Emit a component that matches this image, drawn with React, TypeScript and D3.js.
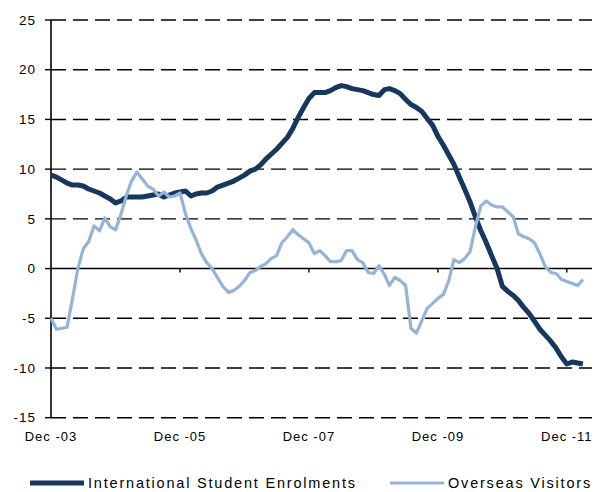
import React, { useEffect, useRef } from "react";
import * as d3 from "d3";

// monthly, Dec-03 .. Mar-12
const studentEnrolments = [
  9.4, 9.2, 8.9, 8.6, 8.4, 8.4, 8.3, 8.0, 7.8, 7.6, 7.3, 7.0, 6.6, 6.8, 7.2, 7.2, 7.2, 7.2, 7.3, 7.4,
  7.5, 7.2, 7.4, 7.6, 7.7, 7.8, 7.3, 7.5, 7.6, 7.6, 7.8, 8.2, 8.4, 8.6, 8.8, 9.1, 9.4, 9.8, 10.0, 10.4,
  11.0, 11.5, 12.0, 12.6, 13.2, 14.1, 15.2, 16.2, 17.1, 17.7, 17.7, 17.7, 17.9, 18.2, 18.4, 18.3, 18.1, 18.0, 17.9, 17.7,
  17.5, 17.4, 18.0, 18.1, 17.9, 17.6, 17.0, 16.5, 16.2, 15.8, 15.1, 14.4, 13.3, 12.4, 11.4, 10.5, 9.2, 8.0, 6.7, 5.2,
  3.8, 2.6, 1.3, 0.0, -1.8, -2.3, -2.7, -3.2, -3.9, -4.5, -5.3, -6.1, -6.7, -7.3, -8.0, -8.9, -9.6, -9.4, -9.5, -9.6,
];

const overseasVisitors = [
  -5.0, -6.1, -6.0, -5.9, -3.0, 0.0, 2.0, 2.7, 4.3, 3.8, 5.1, 4.2, 3.9, 5.5, 7.4, 8.8, 9.7, 9.0, 8.3, 8.0,
  7.3, 7.7, 7.2, 7.3, 7.6, 5.5, 4.0, 2.9, 1.5, 0.6, 0.0, -0.9, -1.8, -2.4, -2.2, -1.8, -1.2, -0.4, -0.2, 0.2,
  0.5, 1.0, 1.3, 2.6, 3.2, 3.9, 3.4, 3.0, 2.6, 1.5, 1.8, 1.3, 0.7, 0.7, 0.8, 1.8, 1.8, 0.9, 0.6, -0.4,
  -0.5, 0.3, -0.6, -1.7, -0.9, -1.2, -1.7, -6.0, -6.5, -5.2, -4.0, -3.5, -3.0, -2.6, -1.2, 0.9, 0.6, 1.0, 1.7, 4.2,
  6.3, 6.8, 6.4, 6.2, 6.2, 5.7, 5.2, 3.5, 3.2, 3.0, 2.6, 1.5, 0.2, -0.4, -0.5, -1.1, -1.3, -1.5, -1.7, -1.1,
];

const seriesNames = ["International Student Enrolments", "Overseas Visitors"];
const seriesColors = ["#17375E", "#95B3D7"];
const yTicks = [-15, -10, -5, 0, 5, 10, 15, 20, 25];
const xTickLabels = ["Dec -03", "Dec -05", "Dec -07", "Dec -09", "Dec -11"];

const months = d3.timeMonth.range(new Date(2003, 11, 1), new Date(2012, 3, 1));
const xTickDates = d3.range(xTickLabels.length).map((i) => new Date(2003 + 2 * i, 11, 1));

const Chart = () => {
  const svgRef = useRef<SVGSVGElement>(null);

  useEffect(() => {
    const width = 597;
    const height = 492;
    const left = 51;
    const right = 591;
    const top = 20;
    const bottom = 417.7;
    const font = "Arial, 'Liberation Sans', sans-serif";

    const svg = d3.select(svgRef.current);
    svg.selectAll("*").remove();
    svg.attr("width", width).attr("height", height);

    const x = d3
      .scaleTime()
      .domain([new Date(2003, 11, 1), new Date(2012, 3, 16)])
      .range([left, right]);
    const y = d3.scaleLinear().domain([-15, 25]).range([bottom, top]);

    // horizontal gridlines (dashed), zero line solid
    const grid = svg.append("g");
    grid
      .selectAll("line.grid")
      .data(yTicks.filter((d) => d !== 0))
      .join("line")
      .attr("x1", left)
      .attr("x2", right + 1)
      .attr("y1", (d) => y(d))
      .attr("y2", (d) => y(d))
      .attr("stroke", "#000")
      .attr("stroke-width", 1.4)
      .attr("stroke-dasharray", "15,7");

    // y ticks
    grid
      .selectAll("line.ytick")
      .data(yTicks)
      .join("line")
      .attr("x1", left - 6)
      .attr("x2", left)
      .attr("y1", (d) => y(d))
      .attr("y2", (d) => y(d))
      .attr("stroke", "#000")
      .attr("stroke-width", 1.4);

    grid
      .selectAll("text.ylab")
      .data(yTicks)
      .join("text")
      .attr("x", 36)
      .attr("y", (d) => y(d))
      .attr("dy", "0.35em")
      .attr("text-anchor", "end")
      .attr("font-family", font)
      .attr("font-size", 13.5)
      .attr("letter-spacing", 1)
      .attr("fill", "#000")
      .text((d) => d);

    // x axis at zero
    const xAxis = svg.append("g");
    xAxis
      .append("line")
      .attr("x1", left)
      .attr("x2", right + 1)
      .attr("y1", y(0))
      .attr("y2", y(0))
      .attr("stroke", "#000")
      .attr("stroke-width", 1.4);
    xAxis
      .selectAll("line.xtick")
      .data(xTickDates.slice(1))
      .join("line")
      .attr("x1", (d) => x(d))
      .attr("x2", (d) => x(d))
      .attr("y1", y(0))
      .attr("y2", y(0) + 4)
      .attr("stroke", "#000")
      .attr("stroke-width", 1.4);
    xAxis
      .selectAll("text")
      .data(xTickDates)
      .join("text")
      .attr("x", (d) => x(d))
      .attr("y", 441)
      .attr("text-anchor", "middle")
      .attr("font-family", font)
      .attr("font-size", 13)
      .attr("letter-spacing", 1)
      .attr("fill", "#000")
      .text((d, i) => xTickLabels[i]);

    // y axis line
    svg
      .append("line")
      .attr("x1", left)
      .attr("x2", left)
      .attr("y1", top)
      .attr("y2", bottom)
      .attr("stroke", "#000")
      .attr("stroke-width", 1.6);

    const line = d3
      .line<number>()
      .x((d, i) => x(months[i]))
      .y((d) => y(d));

    svg
      .append("path")
      .datum(studentEnrolments)
      .attr("fill", "none")
      .attr("stroke", seriesColors[0])
      .attr("stroke-width", 5)
      .attr("stroke-linejoin", "round")
      .attr("d", line);

    svg
      .append("path")
      .datum(overseasVisitors)
      .attr("fill", "none")
      .attr("stroke", seriesColors[1])
      .attr("stroke-width", 3.2)
      .attr("stroke-linejoin", "round")
      .attr("d", line);

    // legend
    const legendX = [30, 390];
    const legend = svg
      .append("g")
      .selectAll("g")
      .data(seriesNames)
      .join("g")
      .attr("transform", (d, i) => `translate(${legendX[i]}, 483)`);
    legend
      .append("line")
      .attr("x1", 0)
      .attr("x2", 54)
      .attr("stroke", (d, i) => seriesColors[i])
      .attr("stroke-width", (d, i) => (i === 0 ? 5 : 3.2));
    legend
      .append("text")
      .attr("x", 58)
      .attr("y", 5)
      .attr("font-family", font)
      .attr("font-size", 14.5)
      .attr("letter-spacing", 1.8)
      .attr("fill", "#000")
      .text((d) => d);
  }, []);

  return <svg ref={svgRef} style={{ display: "block" }} />;
};

export default function App() {
  return (
    <div style={{ position: "fixed", left: 0, top: 0, background: "#fff" }}>
      <Chart />
    </div>
  );
}
